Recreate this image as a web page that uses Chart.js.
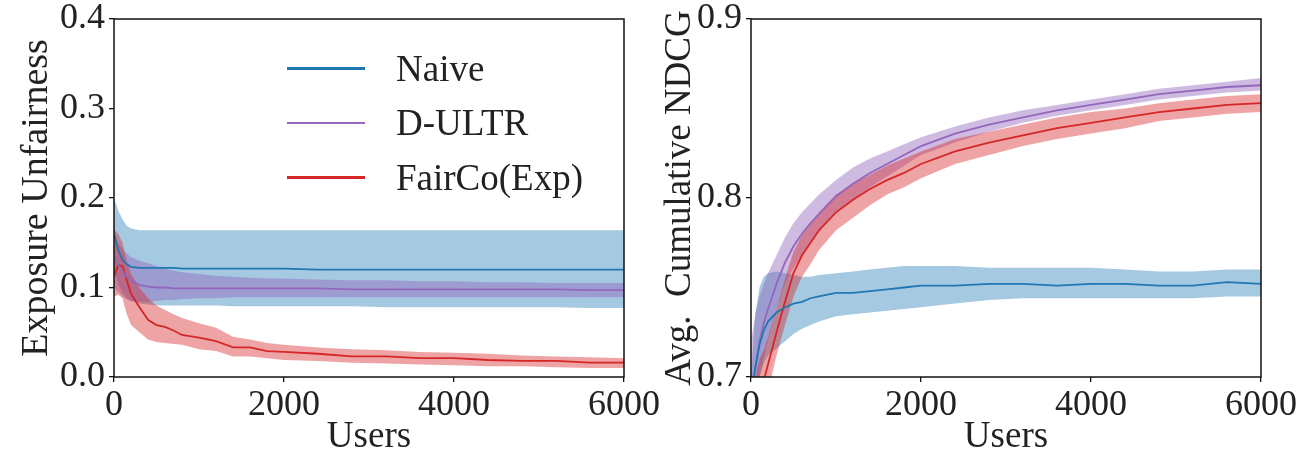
<!DOCTYPE html>
<html>
<head>
<meta charset="utf-8">
<script src="https://cdn.jsdelivr.net/npm/chart.js@4.4.1/dist/chart.umd.min.js"></script>
<style>
  body { margin: 0; background: #fff; }
  #wrap { position: relative; width: 1307px; height: 458px; overflow: hidden; }
  canvas { position: absolute; top: 0; }
  #unfairChart { left: 0; }
  #ndcgChart { left: 650px; }
  #legend { position: absolute; left: 287px; top: 41px; font-family: 'Liberation Serif', 'DejaVu Serif', serif; font-size: 37px; color: #222; }
  .item { display: flex; align-items: center; height: 54.5px; white-space: nowrap; }
  .swatch { width: 78px; height: 2.5px; margin-right: 31px; }
</style>
</head>
<body>
<div id="wrap">
  <canvas id="unfairChart" width="680" height="458"></canvas>
  <canvas id="ndcgChart" width="657" height="458"></canvas>
  <div id="legend"></div>
</div>
<script>
// x positions (number of users)
const users = [0, 50, 100, 150, 200, 300, 400, 500, 600, 700, 800, 1000, 1200, 1400, 1600, 1800, 2000, 2400, 2800, 3200, 3600, 4000, 4400, 4800, 5200, 5600, 6000];

const seriesNames = ['Naive', 'D-ULTR', 'FairCo(Exp)'];
const seriesColors = ['#1f77b4', '#9467bd', '#d62728'];
const bandColors = ['rgba(31, 119, 180, 0.4)', 'rgba(148, 103, 189, 0.45)', 'rgba(214, 39, 40, 0.42)'];

// Exposure Unfairness (mean, upper, lower)
const naiveUnfair   = [0.160, 0.142, 0.131, 0.126, 0.123, 0.122, 0.122, 0.122, 0.122, 0.122, 0.121, 0.121, 0.121, 0.121, 0.121, 0.121, 0.121, 0.120, 0.120, 0.120, 0.120, 0.120, 0.120, 0.120, 0.120, 0.120, 0.120];
const naiveUnfairHi = [0.200, 0.186, 0.176, 0.169, 0.166, 0.164, 0.164, 0.164, 0.164, 0.164, 0.164, 0.164, 0.164, 0.164, 0.164, 0.164, 0.164, 0.164, 0.164, 0.164, 0.164, 0.164, 0.164, 0.164, 0.164, 0.164, 0.164];
const naiveUnfairLo = [0.120, 0.104, 0.094, 0.088, 0.085, 0.082, 0.081, 0.080, 0.080, 0.080, 0.080, 0.080, 0.080, 0.079, 0.079, 0.079, 0.079, 0.079, 0.079, 0.078, 0.078, 0.078, 0.078, 0.078, 0.078, 0.077, 0.077];

const dultrUnfair   = [0.135, 0.125, 0.118, 0.112, 0.108, 0.103, 0.101, 0.100, 0.100, 0.099, 0.099, 0.099, 0.099, 0.099, 0.099, 0.099, 0.099, 0.099, 0.098, 0.098, 0.098, 0.098, 0.098, 0.098, 0.098, 0.097, 0.097];
const dultrUnfairHi = [0.160, 0.150, 0.143, 0.138, 0.134, 0.130, 0.127, 0.124, 0.121, 0.119, 0.117, 0.115, 0.113, 0.112, 0.111, 0.110, 0.110, 0.109, 0.108, 0.108, 0.107, 0.107, 0.106, 0.106, 0.105, 0.105, 0.105];
const dultrUnfairLo = [0.100, 0.095, 0.090, 0.087, 0.085, 0.084, 0.084, 0.085, 0.086, 0.086, 0.087, 0.088, 0.088, 0.089, 0.089, 0.089, 0.089, 0.089, 0.089, 0.089, 0.089, 0.089, 0.089, 0.089, 0.089, 0.089, 0.089];

const faircoUnfair   = [0.112, 0.125, 0.124, 0.108, 0.093, 0.078, 0.064, 0.058, 0.056, 0.052, 0.047, 0.044, 0.040, 0.033, 0.033, 0.029, 0.028, 0.026, 0.023, 0.023, 0.021, 0.021, 0.019, 0.018, 0.018, 0.016, 0.016];
const faircoUnfairHi = [0.165, 0.160, 0.150, 0.130, 0.115, 0.100, 0.088, 0.080, 0.075, 0.070, 0.066, 0.060, 0.055, 0.045, 0.042, 0.038, 0.036, 0.033, 0.031, 0.030, 0.028, 0.027, 0.026, 0.024, 0.023, 0.022, 0.021];
const faircoUnfairLo = [0.090, 0.092, 0.088, 0.070, 0.058, 0.050, 0.042, 0.039, 0.038, 0.037, 0.036, 0.031, 0.029, 0.023, 0.023, 0.021, 0.019, 0.018, 0.016, 0.015, 0.014, 0.013, 0.012, 0.012, 0.011, 0.010, 0.010];

// Avg. Cumulative NDCG (mean, upper, lower)
const naiveNdcg   = [0.690, 0.705, 0.718, 0.726, 0.731, 0.736, 0.739, 0.741, 0.742, 0.744, 0.745, 0.747, 0.747, 0.748, 0.749, 0.750, 0.751, 0.751, 0.752, 0.752, 0.751, 0.752, 0.752, 0.751, 0.751, 0.753, 0.752];
const naiveNdcgHi = [0.700, 0.735, 0.750, 0.756, 0.758, 0.759, 0.758, 0.757, 0.756, 0.756, 0.757, 0.758, 0.759, 0.760, 0.761, 0.762, 0.762, 0.762, 0.761, 0.761, 0.761, 0.761, 0.760, 0.759, 0.759, 0.760, 0.760];
const naiveNdcgLo = [0.680, 0.690, 0.700, 0.708, 0.712, 0.716, 0.720, 0.724, 0.727, 0.729, 0.731, 0.734, 0.735, 0.736, 0.737, 0.738, 0.739, 0.741, 0.743, 0.744, 0.744, 0.744, 0.744, 0.744, 0.744, 0.745, 0.745];

const dultrNdcg   = [0.690, 0.705, 0.720, 0.730, 0.738, 0.752, 0.764, 0.773, 0.780, 0.786, 0.791, 0.801, 0.808, 0.814, 0.819, 0.824, 0.829, 0.836, 0.841, 0.845, 0.849, 0.852, 0.855, 0.858, 0.860, 0.862, 0.863];
const dultrNdcgHi = [0.720, 0.735, 0.745, 0.752, 0.758, 0.768, 0.778, 0.786, 0.792, 0.797, 0.802, 0.810, 0.817, 0.822, 0.826, 0.830, 0.834, 0.840, 0.845, 0.849, 0.852, 0.855, 0.858, 0.861, 0.863, 0.865, 0.867];
const dultrNdcgLo = [0.670, 0.685, 0.700, 0.710, 0.720, 0.738, 0.752, 0.761, 0.768, 0.775, 0.781, 0.792, 0.799, 0.806, 0.812, 0.818, 0.824, 0.831, 0.837, 0.842, 0.846, 0.849, 0.852, 0.855, 0.857, 0.859, 0.860];

const faircoNdcg   = [0.660, 0.680, 0.690, 0.698, 0.707, 0.725, 0.742, 0.758, 0.768, 0.775, 0.782, 0.792, 0.799, 0.805, 0.810, 0.814, 0.819, 0.826, 0.831, 0.835, 0.839, 0.842, 0.845, 0.848, 0.850, 0.852, 0.853];
const faircoNdcgHi = [0.680, 0.700, 0.710, 0.715, 0.722, 0.738, 0.755, 0.770, 0.779, 0.786, 0.792, 0.802, 0.808, 0.813, 0.818, 0.822, 0.826, 0.833, 0.837, 0.841, 0.845, 0.848, 0.850, 0.853, 0.855, 0.857, 0.858];
const faircoNdcgLo = [0.640, 0.660, 0.672, 0.682, 0.692, 0.712, 0.729, 0.745, 0.756, 0.763, 0.771, 0.782, 0.789, 0.796, 0.802, 0.806, 0.811, 0.819, 0.824, 0.829, 0.833, 0.836, 0.839, 0.843, 0.845, 0.847, 0.848];

const xTicks = [0, 2000, 4000, 6000];
const FONT = "'Liberation Serif', 'DejaVu Serif', serif";

function points(values) {
    return users.map((u, i) => ({ x: u, y: values[i] }));
}

// Build line + band datasets; lines first so they sit on top
function buildDatasets(means, highs, lows) {
    const lines = means.map((m, i) => ({
        label: seriesNames[i],
        data: points(m),
        borderColor: seriesColors[i],
        borderWidth: 1.8,
        pointRadius: 0,
        tension: 0,
        fill: false
    }));
    const bands = [];
    for (let i = means.length - 1; i >= 0; i--) {
        bands.push({
            label: seriesNames[i] + ' hi',
            data: points(highs[i]),
            borderWidth: 0,
            pointRadius: 0,
            backgroundColor: bandColors[i],
            fill: '+1'
        });
        bands.push({
            label: seriesNames[i] + ' lo',
            data: points(lows[i]),
            borderWidth: 0,
            pointRadius: 0,
            fill: false
        });
    }
    return lines.concat(bands);
}

// Draws the black frame around the plot area
const framePlugin = {
    id: 'frame',
    afterDraw(chart) {
        const a = chart.chartArea;
        const ctx = chart.ctx;
        ctx.save();
        ctx.strokeStyle = '#111';
        ctx.lineWidth = 1.5;
        ctx.strokeRect(a.left, a.top, a.right - a.left, a.bottom - a.top);
        ctx.restore();
    }
};

function makeChart(id, datasets, yMin, yMax, yTitle, yTitleSize, yWidth, titlePad, rightPad) {
    const ctx = document.getElementById(id).getContext('2d');
    return new Chart(ctx, {
        type: 'line',
        data: { datasets: datasets },
        options: {
            responsive: false,
            animation: false,
            layout: { padding: { top: 19, right: rightPad, left: 0, bottom: 0 } },
            plugins: { legend: { display: false }, tooltip: { enabled: false } },
            scales: {
                x: {
                    type: 'linear',
                    min: 0,
                    max: 6000,
                    afterBuildTicks: (scale) => { scale.ticks = xTicks.map(v => ({ value: v })); },
                    afterFit: (scale) => { scale.height = 81; scale.paddingLeft = 0; scale.paddingRight = 0; },
                    border: { display: false },
                    grid: { drawOnChartArea: false, drawTicks: true, tickLength: 5, color: '#111', lineWidth: 1.3 },
                    ticks: {
                        padding: 2,
                        color: '#222',
                        maxRotation: 0,
                        autoSkip: false,
                        font: { family: FONT, size: 36 },
                        callback: (v) => String(v)
                    },
                    title: {
                        display: true,
                        text: 'Users',
                        color: '#222',
                        padding: 0,
                        font: { family: FONT, size: 37, lineHeight: 1.1 }
                    }
                },
                y: {
                    min: yMin,
                    max: yMax,
                    afterFit: (scale) => { scale.width = yWidth; scale.paddingTop = 0; scale.paddingBottom = 0; },
                    border: { display: false },
                    grid: { drawOnChartArea: false, drawTicks: true, tickLength: 5, color: '#111', lineWidth: 1.3 },
                    ticks: {
                        stepSize: 0.1,
                        padding: 4,
                        color: '#222',
                        font: { family: FONT, size: 36 },
                        callback: (v) => v.toFixed(1)
                    },
                    title: {
                        display: true,
                        text: yTitle,
                        color: '#222',
                        padding: { top: titlePad, bottom: 0 },
                        font: { family: FONT, size: yTitleSize, lineHeight: 1.2 }
                    }
                }
            }
        },
        plugins: [framePlugin]
    });
}

makeChart('unfairChart',
    buildDatasets([naiveUnfair, dultrUnfair, faircoUnfair],
                  [naiveUnfairHi, dultrUnfairHi, faircoUnfairHi],
                  [naiveUnfairLo, dultrUnfairLo, faircoUnfairLo]),
    0, 0.4, 'Exposure Unfairness', 38, 114, 14, 56);

makeChart('ndcgChart',
    buildDatasets([naiveNdcg, dultrNdcg, faircoNdcg],
                  [naiveNdcgHi, dultrNdcgHi, faircoNdcgHi],
                  [naiveNdcgLo, dultrNdcgLo, faircoNdcgLo]),
    0.7, 0.9, 'Avg.  Cumulative NDCG', 37, 101, 8, 46);

// Legend inside the left plot
const legend = document.getElementById('legend');
seriesNames.forEach((name, i) => {
    const row = document.createElement('div');
    row.className = 'item';
    row.innerHTML = `<span class="swatch" style="background:${seriesColors[i]}"></span><span>${name}</span>`;
    legend.appendChild(row);
});
</script>
</body>
</html>
